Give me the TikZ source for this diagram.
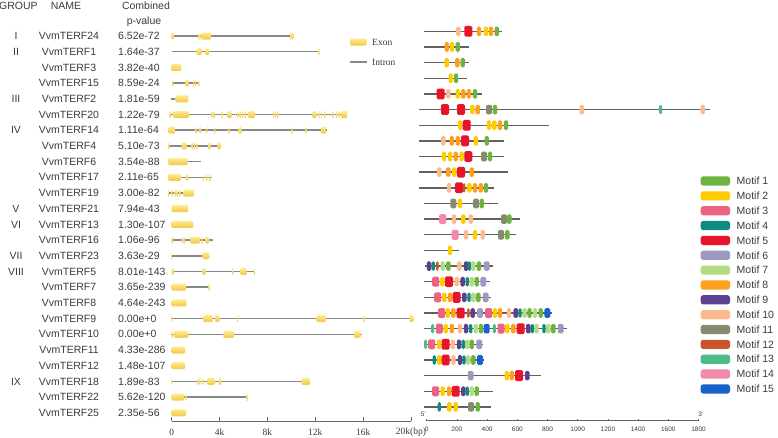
\documentclass[tikz,border=0pt]{standalone}
\usepackage{fontspec}
\setmainfont{Liberation Sans}
\newfontfamily\axisserif{Liberation Serif}
\usepackage{tikz}
\usetikzlibrary{positioning}
\definecolor{txt}{HTML}{3A3A3A}
\definecolor{introncol}{HTML}{888888}
\definecolor{exonA}{HTML}{FFEB8F}
\definecolor{exonB}{HTML}{F2C744}
\definecolor{m1}{HTML}{6DB33F}
\definecolor{m2}{HTML}{FFCC00}
\definecolor{m3}{HTML}{EC6282}
\definecolor{m4}{HTML}{0C8C80}
\definecolor{m5}{HTML}{E8142A}
\definecolor{m6}{HTML}{9C98BE}
\definecolor{m7}{HTML}{B1DC84}
\definecolor{m8}{HTML}{FF9F1C}
\definecolor{m9}{HTML}{5B418E}
\definecolor{m10}{HTML}{FDBB8D}
\definecolor{m11}{HTML}{858B6D}
\definecolor{m12}{HTML}{C9552D}
\definecolor{m13}{HTML}{4DBB87}
\definecolor{m14}{HTML}{F38BA8}
\definecolor{m15}{HTML}{1763C9}

\begin{document}
\begin{tikzpicture}[
  x=1pt, y=-1pt,
  lbl/.style={font=\fontsize{10.5}{12}\selectfont, text=txt, inner sep=0pt},
  tick/.style={font=\axisserif\fontsize{9.5}{11}\selectfont, text=txt, inner sep=0pt},
  aatick/.style={font=\fontsize{6.5}{7}\selectfont, text=txt, inner sep=0pt},
  intron/.style={draw=introncol, line width=1.5pt},
  exon/.style={top color=exonA, bottom color=exonB, rounded corners=1.2pt},
  backbone/.style={draw=black!62, line width=1.4pt},
  axis/.style={draw=black!60, line width=0.9pt}
]
  \useasboundingbox (0,0) rectangle (778,437);

  % Header
  \node[lbl] (hgroup) at (18.5,6) {GROUP};
  \node[lbl] (hname) at (66,6) {NAME};
  \node[lbl] (hcomb) at (146,6) {Combined};
  \node[lbl] (hpval) at (144,21.5) {p-value};

  % Names and p-values
  \foreach \n/\p [count=\i from 0] in {24/6.52e-72, 1/1.64e-37, 3/3.82e-40, 15/8.59e-24,
      2/1.81e-59, 20/1.22e-79, 14/1.11e-64, 4/5.10e-73, 6/3.54e-88, 17/2.11e-65,
      19/3.00e-82, 21/7.94e-43, 13/1.30e-107, 16/1.06e-96, 23/3.63e-29, 5/8.01e-143,
      7/3.65e-239, 8/4.64e-243, 9/0.00e+0, 10/0.00e+0, 11/4.33e-286, 12/1.48e-107,
      18/1.89e-83, 22/5.62e-120, 25/2.35e-56} {
    \pgfmathsetmacro{\y}{36+15.7*\i}
    \node[lbl] (name\n) at (69,\y) {VvmTERF\n};
    \node[lbl, anchor=west] (pval\n) at (118,\y) {\p};
  }
  \foreach \g/\i in {I/0, II/1, III/4, IV/6, V/11, VI/12, VII/14, VIII/15, IX/22} {
    \pgfmathsetmacro{\y}{36+15.7*\i}
    \node[lbl] (grp\g) at (16,\y) {\g};
  }

  % Gene structures
  \foreach \i/\a/\b/\ex in {
      0/171.7/293.3/{171.7/174,198/199.3,200.3/201.5,202.3/211,290/291.3,292/293.3},
      1/171.7/319.3/{196.7/201.7,205.7/209,318.3/319.5},
      2/171/171/{171/181.3},
      3/171.7/199.3/{172.2/173.4,185.3/188.7,193/194.2,195/196.2,198.3/199.5},
      4/171/176.7/{175.7/188.3},
      5/169/347.3/{169/171,173.3/189,211.3/212.5,213.7/214.9,221.5/222.7,227.3/231.7,237/238.2,239.6/240.8,242.3/243.5,244.8/246,248.3/255,273/274.2,275.2/276.4,277.3/278.5,312.7/316.7,318.5/319.7,321/322.2,324.3/325.5,329.5/330.7,332.3/333.5,335.8/337,338.5/339.7,341/347.3},
      6/168.3/326.7/{168.3/175,195.5/196.7,199.3/201,206.2/207.4,213.8/215,228.5/229.7,238.7/241.7,291.2/292.4,305.5/306.7,321/326.7},
      7/168.3/221/{168.3/169.5,181.7/186.7,191.7/192.9,193.9/195.1,196.3/197.5,208.3/211,217.3/221},
      8/168.3/201/{168.3/187.7},
      9/168.3/211.7/{168.3/181,186/188.3,203/204.2,206.2/207.4,209.5/210.7},
      10/168/194/{168/169.2,171.5/172.7,174.5/175.7,176.7/177.9,179.5/180.7,183.3/194},
      11/171.7/171.7/{171.7/188.3},
      12/171.7/171.7/{171.7/193.3},
      13/171.7/212.7/{171.7/172.9,181.3/182.5,183.7/184.9,190/200,201.2/202.4,205.7/209,211.5/212.7},
      14/171.7/203.3/{171.7/172.5,202.7/209.3},
      15/171.7/255/{171.7/173.3,202.7/205.7,232.2/233.4,240.7/246.7,253.8/255},
      16/171.7/209.3/{171.7/186,208.7/209.5},
      17/171.7/171.7/{171.7/186.7},
      18/171.7/413.3/{171.7/172.5,203.3/212.7,215/219.3,237/238,316.7/326,363.5/364.5,409.3/413.3},
      19/171.7/361.7/{171.7/172.7,174/188.3,223.3/234,354/360,361/362},
      20/171.7/171.7/{171.7/185},
      21/171.7/171.7/{171.7/185},
      22/171.7/310/{171.7/172.5,197.3/198.5,199.3/200.5,202.5/203.7,207.3/215,218.7/221.3,301.7/310},
      23/171.7/247.3/{171.7/184,185.5/186.7,246.7/247.5},
      24/171.7/171.7/{171.7/186}} {
    \pgfmathsetmacro{\y}{36+15.7*\i}
    \draw[intron] (\a,\y) -- (\b,\y);
    \foreach \s/\e in \ex {
      \shade[exon] (\s,\y-3.5) rectangle (\e,\y+3.5);
    }
  }

  % Exon/intron key
  \shade[exon] (350,38.5) rectangle (366.7,45.5);
  \node[tick, anchor=west] (kexon) at (372,42) {Exon};
  \draw[intron] (350,62) -- (366.7,62);
  \node[tick, anchor=west] (kintron) at (372,62) {Intron};

  % Gene length axis
  \draw[axis] (171.7,421) -- (411,421);
  \foreach \t/\l in {0/0, 4/4k, 8/8k, 12/12k, 16/16k, 20/20k(bp)} {
    \draw[axis] (171.7+11.965*\t,421) -- (171.7+11.965*\t,417);
    \node[tick] (gx\t) at (171.7+11.965*\t,432) {\l};
  }

  % Motifs
  \foreach \i/\a/\b/\ms in {
      0/424/502.3/{458.3/10,468.3/5,479/8,486/2,491/8,496.7/1},
      1/424/469/{446.7/8,452/2,457.7/1},
      2/424/469.3/{446.7/2,457.3/8,462.7/1},
      3/424/466.7/{450.7/2,456/1},
      4/424/481.7/{440.7/5,448.3/10,457.7/2,463.3/8,469/8,475/1},
      5/419/710/{445/5,461/5,472.3/2,477.7/8,489/11,495/1,581.7/10,660.7/13,702.7/10},
      6/419/549/{460/2,466.7/5,489/2,494.3/2,500/8,506/1},
      7/419/504/{443.3/10,451.7/8,457.7/8,465/5,475.7/2,486.7/1},
      8/419/504.3/{444/2,450/2,455.7/8,461.7/2,468.3/5,484/11,490/1},
      9/419/508.3/{439.3/10,448.3/8,454.3/2,461/5,471.7/8},
      10/419/494/{449/10,459/5,464/12,469.3/2,475/8,480.7/8,486/1},
      11/424/497.7/{453.3/11,460/2,476/11,481.7/1},
      12/424/520/{442.7/14,454/10,463.3/2,470.7/10,504/11,509.3/1},
      13/424/516/{455/14,466/10,475/2,482.7/10,501/11,507.3/1},
      14/424/459.3/{450/2},
      15/425/493.3/{429/9,433.3/4,437.3/12,442.7/7,448.3/1,459.3/10,466/9,469.3/4,473.3/7,479/1,486.7/6},
      16/424/490/{435.7/3,442.3/2,449/5,456.7/10,462.7/9,467.3/4,471.7/7,476.7/1,483.3/6},
      17/424/491/{437.7/3,444.3/2,450/8,456.7/5,464.3/9,469/4,473.3/7,478.3/1,485.7/6},
      18/424/551.7/{441.7/3,447.7/2,453.3/8,460.7/5,468.3/12,472.7/9,480/6,488.7/3,495/2,500/8,509/10,515.7/9,520/4,524.5/7,529.5/1,535/7,540.7/1,547.3/15},
      19/424/567.3/{432.7/13,439.3/3,445.7/2,451.7/8,460/10,466/9,470.7/4,475.7/7,481/1,486.7/15,494.3/13,501/3,507.3/2,513.3/8,520.7/5,528.3/9,532.3/4,536.5/7,544/4,548.3/7,553.3/1,560.7/6},
      20/424/483.3/{425.7/13,431.7/3,439/2,445.7/5,452.7/10,459/9,463.3/4,467.3/7,471.7/1,479.3/6},
      21/424/484/{434.3/4,439.3/2,445.7/5,453.3/10,460/9,464/4,468.3/7,473.3/1,480/15},
      22/424/540.7/{470.7/6,506.7/2,511.7/8,519/5,527.3/9},
      23/424/493.3/{435.7/3,442.7/2,449/8,455.7/5,463.3/9,467.3/4,471.7/7,476.7/1},
      24/424/491/{439.3/4,449.3/2,455.7/2,471/11,477.7/1}} {
    \pgfmathsetmacro{\y}{31.3+15.65*\i}
    \draw[backbone] (\a,\y) -- (\b,\y);
    \foreach \x/\m in \ms {
      \pgfmathsetmacro{\w}{{4.4,4.4,7,3.3,8,5.7,4.4,4.4,4.5,4.4,6,2.5,3,7,6}[\m-1]}
      \pgfmathsetmacro{\h}{{4.8,4.8,5,4.8,5.4,4.8,4.8,4.8,4.8,4.8,4.8,4.8,4.8,5,4.8}[\m-1]}
      \fill[m\m, rounded corners=1.5pt] (\x-\w/2,\y-\h) rectangle (\x+\w/2,\y+\h);
    }
  }

  % Protein length axis
  \draw[axis] (426.7,420.7) -- (698.5,420.7);
  \foreach \t in {0,200,...,1800} {
    \draw[axis, line width=0.6pt] (426.7+0.151*\t,420.7) -- (426.7+0.151*\t,418.5);
    \node[aatick] (ax\t) at (426.7+0.151*\t,429.5) {\t};
  }
  \node[aatick] (five) at (423.5,414.5) {5'};
  \node[aatick] (three) at (701,414.5) {3'};

  % Motif legend
  \foreach \m [count=\k from 0] in {1,...,15} {
    \pgfmathsetmacro{\y}{181+14.85*\k}
    \fill[m\m, rounded corners=2.5pt] (700.7,\y-4.6) rectangle (730,\y+4.6);
    \node[lbl, anchor=west] (leg\m) at (736.5,\y) {Motif \m};
  }
\end{tikzpicture}
\end{document}
